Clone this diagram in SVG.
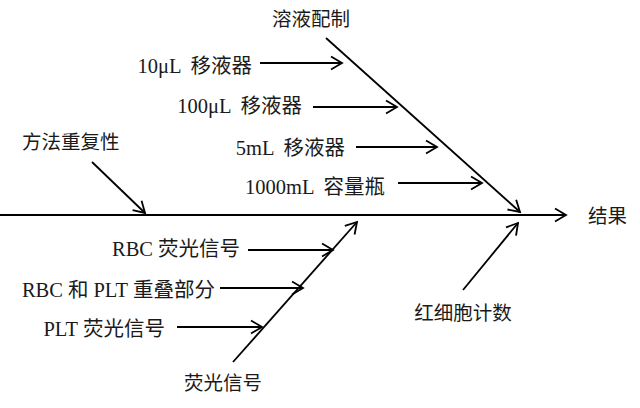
<svg xmlns="http://www.w3.org/2000/svg" width="640" height="408" viewBox="0 0 640 408">
<defs>
<style>
.t{font-family:"Liberation Serif","Noto Sans CJK SC",serif;font-size:20.5px;fill:#1a1a1a}
.c{font-family:"Noto Sans CJK SC",sans-serif;font-size:19.5px;fill:#1a1a1a}
.l{stroke:#000;stroke-width:1.8;fill:none;marker-end:url(#ah)}
</style>
<marker id="ah" markerUnits="userSpaceOnUse" viewBox="-13 -8 15 16" markerWidth="15" markerHeight="16" refX="0" refY="0" orient="auto">
<path d="M-11,-6.5 L0,0 L-11,6.5" stroke="#000" stroke-width="1.8" fill="none" stroke-linejoin="miter"/>
</marker>
</defs>
<rect width="640" height="408" fill="#fff"/>
<g id="connectors">
<line class="l" x1="0" y1="215" x2="566" y2="215"/>
<line class="l" x1="326" y1="38" x2="520" y2="212"/>
<line class="l" x1="260" y1="63" x2="342" y2="63"/>
<line class="l" x1="313" y1="107" x2="397" y2="107"/>
<line class="l" x1="356" y1="147" x2="437" y2="147"/>
<line class="l" x1="398" y1="183" x2="482" y2="183"/>
<line class="l" x1="92" y1="162" x2="145" y2="213"/>
<line class="l" x1="233" y1="362" x2="357" y2="222"/>
<line class="l" x1="248" y1="250" x2="333" y2="250"/>
<line class="l" x1="220" y1="288" x2="303" y2="288"/>
<line class="l" x1="177" y1="327" x2="262" y2="327"/>
<line class="l" x1="463" y1="290" x2="518" y2="223"/>
</g>
<g id="result"><text class="c" x="588" y="223">结果</text></g>
<g id="solution"><text class="c" x="311" y="26" text-anchor="middle">溶液配制</text></g>
<g id="p10"><text class="t" x="252" y="73" text-anchor="end">10μL<tspan dx="9">移液器</tspan></text></g>
<g id="p100"><text class="t" x="302" y="113" text-anchor="end">100μL<tspan dx="9">移液器</tspan></text></g>
<g id="p5"><text class="t" x="345" y="155" text-anchor="end">5mL<tspan dx="9">移液器</tspan></text></g>
<g id="flask"><text class="t" x="385" y="194" text-anchor="end">1000mL<tspan dx="9">容量瓶</tspan></text></g>
<g id="repeat"><text class="c" x="22" y="149">方法重复性</text></g>
<g id="fluor"><text class="c" x="223" y="390" text-anchor="middle">荧光信号</text></g>
<g id="rbcf"><text class="t" x="240" y="256" text-anchor="end">RBC<tspan dx="5">荧光信号</tspan></text></g>
<g id="overlap"><text class="t" x="215" y="297" text-anchor="end">RBC<tspan dx="5">和</tspan><tspan dx="5">PLT</tspan><tspan dx="5">重叠部分</tspan></text></g>
<g id="pltf"><text class="t" x="165" y="336" text-anchor="end">PLT<tspan dx="5">荧光信号</tspan></text></g>
<g id="rbccount"><text class="c" x="463" y="320" text-anchor="middle">红细胞计数</text></g>
</svg>
